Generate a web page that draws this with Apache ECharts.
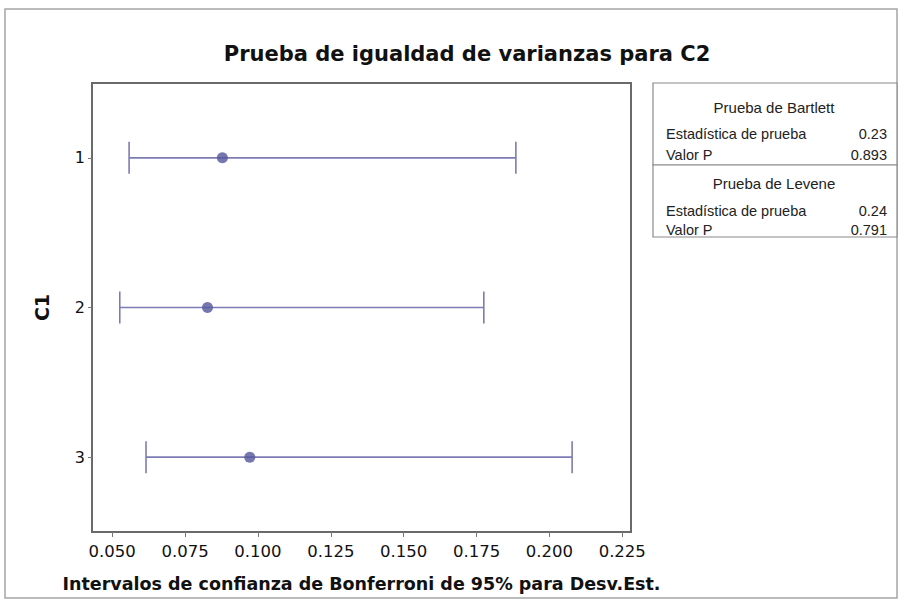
<!DOCTYPE html>
<html>
<head>
<meta charset="utf-8">
<script src="https://cdn.jsdelivr.net/npm/echarts@6/dist/echarts.min.js"></script>
<style>
html,body{margin:0;padding:0;background:#ffffff;}
#chart{width:906px;height:607px;}
</style>
</head>
<body>
<div id="chart"></div>
<script>
// ---- data ----
const categories = ['1', '2', '3'];
const lowerCI = [0.0558, 0.0526, 0.0616];
const stdDev = [0.0878, 0.0827, 0.0972];
const upperCI = [0.1885, 0.1775, 0.2078];
const xTickValues = [0.050, 0.075, 0.100, 0.125, 0.150, 0.175, 0.200, 0.225];
const titleText = 'Prueba de igualdad de varianzas para C2';
const xAxisTitle = 'Intervalos de confianza de Bonferroni de 95% para Desv.Est.';
const yAxisTitle = 'C1';
const bartlettTitle = 'Prueba de Bartlett';
const bartlettRows = [['Estadística de prueba', '0.23'], ['Valor P', '0.893']];
const leveneTitle = 'Prueba de Levene';
const leveneRows = [['Estadística de prueba', '0.24'], ['Valor P', '0.791']];

const chart = echarts.init(document.getElementById('chart'), null, {renderer: 'svg'});

const intervalData = categories.map((c, i) => [lowerCI[i], upperCI[i], i]);
const pointData = categories.map((c, i) => [stdDev[i], c]);

const tableFont = '"Liberation Sans", Arial, sans-serif';
const tableGraphic = [];
const tx = 653, tw = 244;
tableGraphic.push({type: 'rect', shape: {x: tx, y: 83, width: tw, height: 82}, style: {fill: '#fff', stroke: '#8a8a8a', lineWidth: 1.2}, z: 5});
tableGraphic.push({type: 'rect', shape: {x: tx, y: 165, width: tw, height: 72}, style: {fill: '#fff', stroke: '#8a8a8a', lineWidth: 1.2}, z: 5});
function addBlock(title, rows, ty, rowYs) {
  tableGraphic.push({type: 'text', x: tx + tw / 2 - 1, y: ty, style: {text: title, fill: '#222', font: '15px ' + tableFont, align: 'center', verticalAlign: 'middle'}, z: 6});
  rows.forEach((r, k) => {
    tableGraphic.push({type: 'text', x: tx + 13, y: rowYs[k], style: {text: r[0], fill: '#222', font: '14.5px ' + tableFont, align: 'left', verticalAlign: 'middle'}, z: 6});
    tableGraphic.push({type: 'text', x: tx + 234, y: rowYs[k], style: {text: r[1], fill: '#222', font: '14.5px ' + tableFont, align: 'right', verticalAlign: 'middle'}, z: 6});
  });
}
addBlock(bartlettTitle, bartlettRows, 107, [134, 155]);
addBlock(leveneTitle, leveneRows, 183, [211, 230]);

const option = {
  backgroundColor: '#ffffff',
  animation: false,
  title: {
    text: titleText,
    left: 462,
    top: 38,
    textAlign: 'center',
    textStyle: {fontFamily: '"DejaVu Sans", sans-serif', fontWeight: 'bold', fontSize: 21, color: '#111'}
  },
  grid: {
    left: 92, right: 275, top: 83, bottom: 75,
    show: true, borderColor: '#6a6a6a', borderWidth: 2, backgroundColor: '#fff'
  },
  xAxis: {
    type: 'value',
    min: 0.04307,
    max: 0.2280,
    splitLine: {show: false},
    axisLine: {show: true, lineStyle: {color: '#6a6a6a', width: 2}},
    axisTick: {show: true, customValues: xTickValues, length: 5, lineStyle: {color: '#777'}},
    axisLabel: {
      customValues: xTickValues,
      formatter: v => v.toFixed(3),
      fontFamily: '"DejaVu Sans", sans-serif', fontSize: 16.5, color: '#111', margin: 11
    },
    name: xAxisTitle,
    nameLocation: 'middle',
    nameGap: 43,
    nameTextStyle: {fontFamily: '"DejaVu Sans", sans-serif', fontWeight: 'bold', fontSize: 17.5, color: '#111'}
  },
  yAxis: {
    type: 'category',
    data: categories,
    inverse: true,
    boundaryGap: true,
    axisLine: {show: true, lineStyle: {color: '#6a6a6a', width: 2}},
    axisTick: {show: true, alignWithLabel: true, length: 4, lineStyle: {color: '#777'}},
    axisLabel: {fontFamily: '"DejaVu Sans", sans-serif', fontSize: 16, color: '#111', margin: 7},
    splitLine: {show: false},
    name: yAxisTitle,
    nameLocation: 'middle',
    nameGap: 41,
    nameRotate: 90,
    nameTextStyle: {fontFamily: '"DejaVu Sans", sans-serif', fontWeight: 'bold', fontSize: 19, color: '#111'}
  },
  graphic: [
    {type: 'rect', shape: {x: 5, y: 9, width: 892, height: 589}, style: {fill: 'none', stroke: '#a5a5a5', lineWidth: 1.5}, z: 1, silent: true}
  ].concat(tableGraphic),
  series: [
    {
      type: 'custom',
      data: intervalData,
      encode: {x: [0, 1], y: 2},
      renderItem: function (params, api) {
        const lo = api.coord([api.value(0), api.value(2)]);
        const hi = api.coord([api.value(1), api.value(2)]);
        const cap = 16;
        const style = {stroke: '#7c7cb4', lineWidth: 1.6, fill: 'none'};
        return {
          type: 'group',
          children: [
            {type: 'line', shape: {x1: lo[0], y1: lo[1], x2: hi[0], y2: hi[1]}, style: style},
            {type: 'line', shape: {x1: lo[0], y1: lo[1] - cap, x2: lo[0], y2: lo[1] + cap}, style: style},
            {type: 'line', shape: {x1: hi[0], y1: hi[1] - cap, x2: hi[0], y2: hi[1] + cap}, style: style}
          ]
        };
      },
      z: 3
    },
    {
      type: 'scatter',
      data: pointData,
      symbol: 'circle',
      symbolSize: 11,
      itemStyle: {color: '#55559c'},
      z: 4
    }
  ]
};
chart.setOption(option);
</script>
</body>
</html>
